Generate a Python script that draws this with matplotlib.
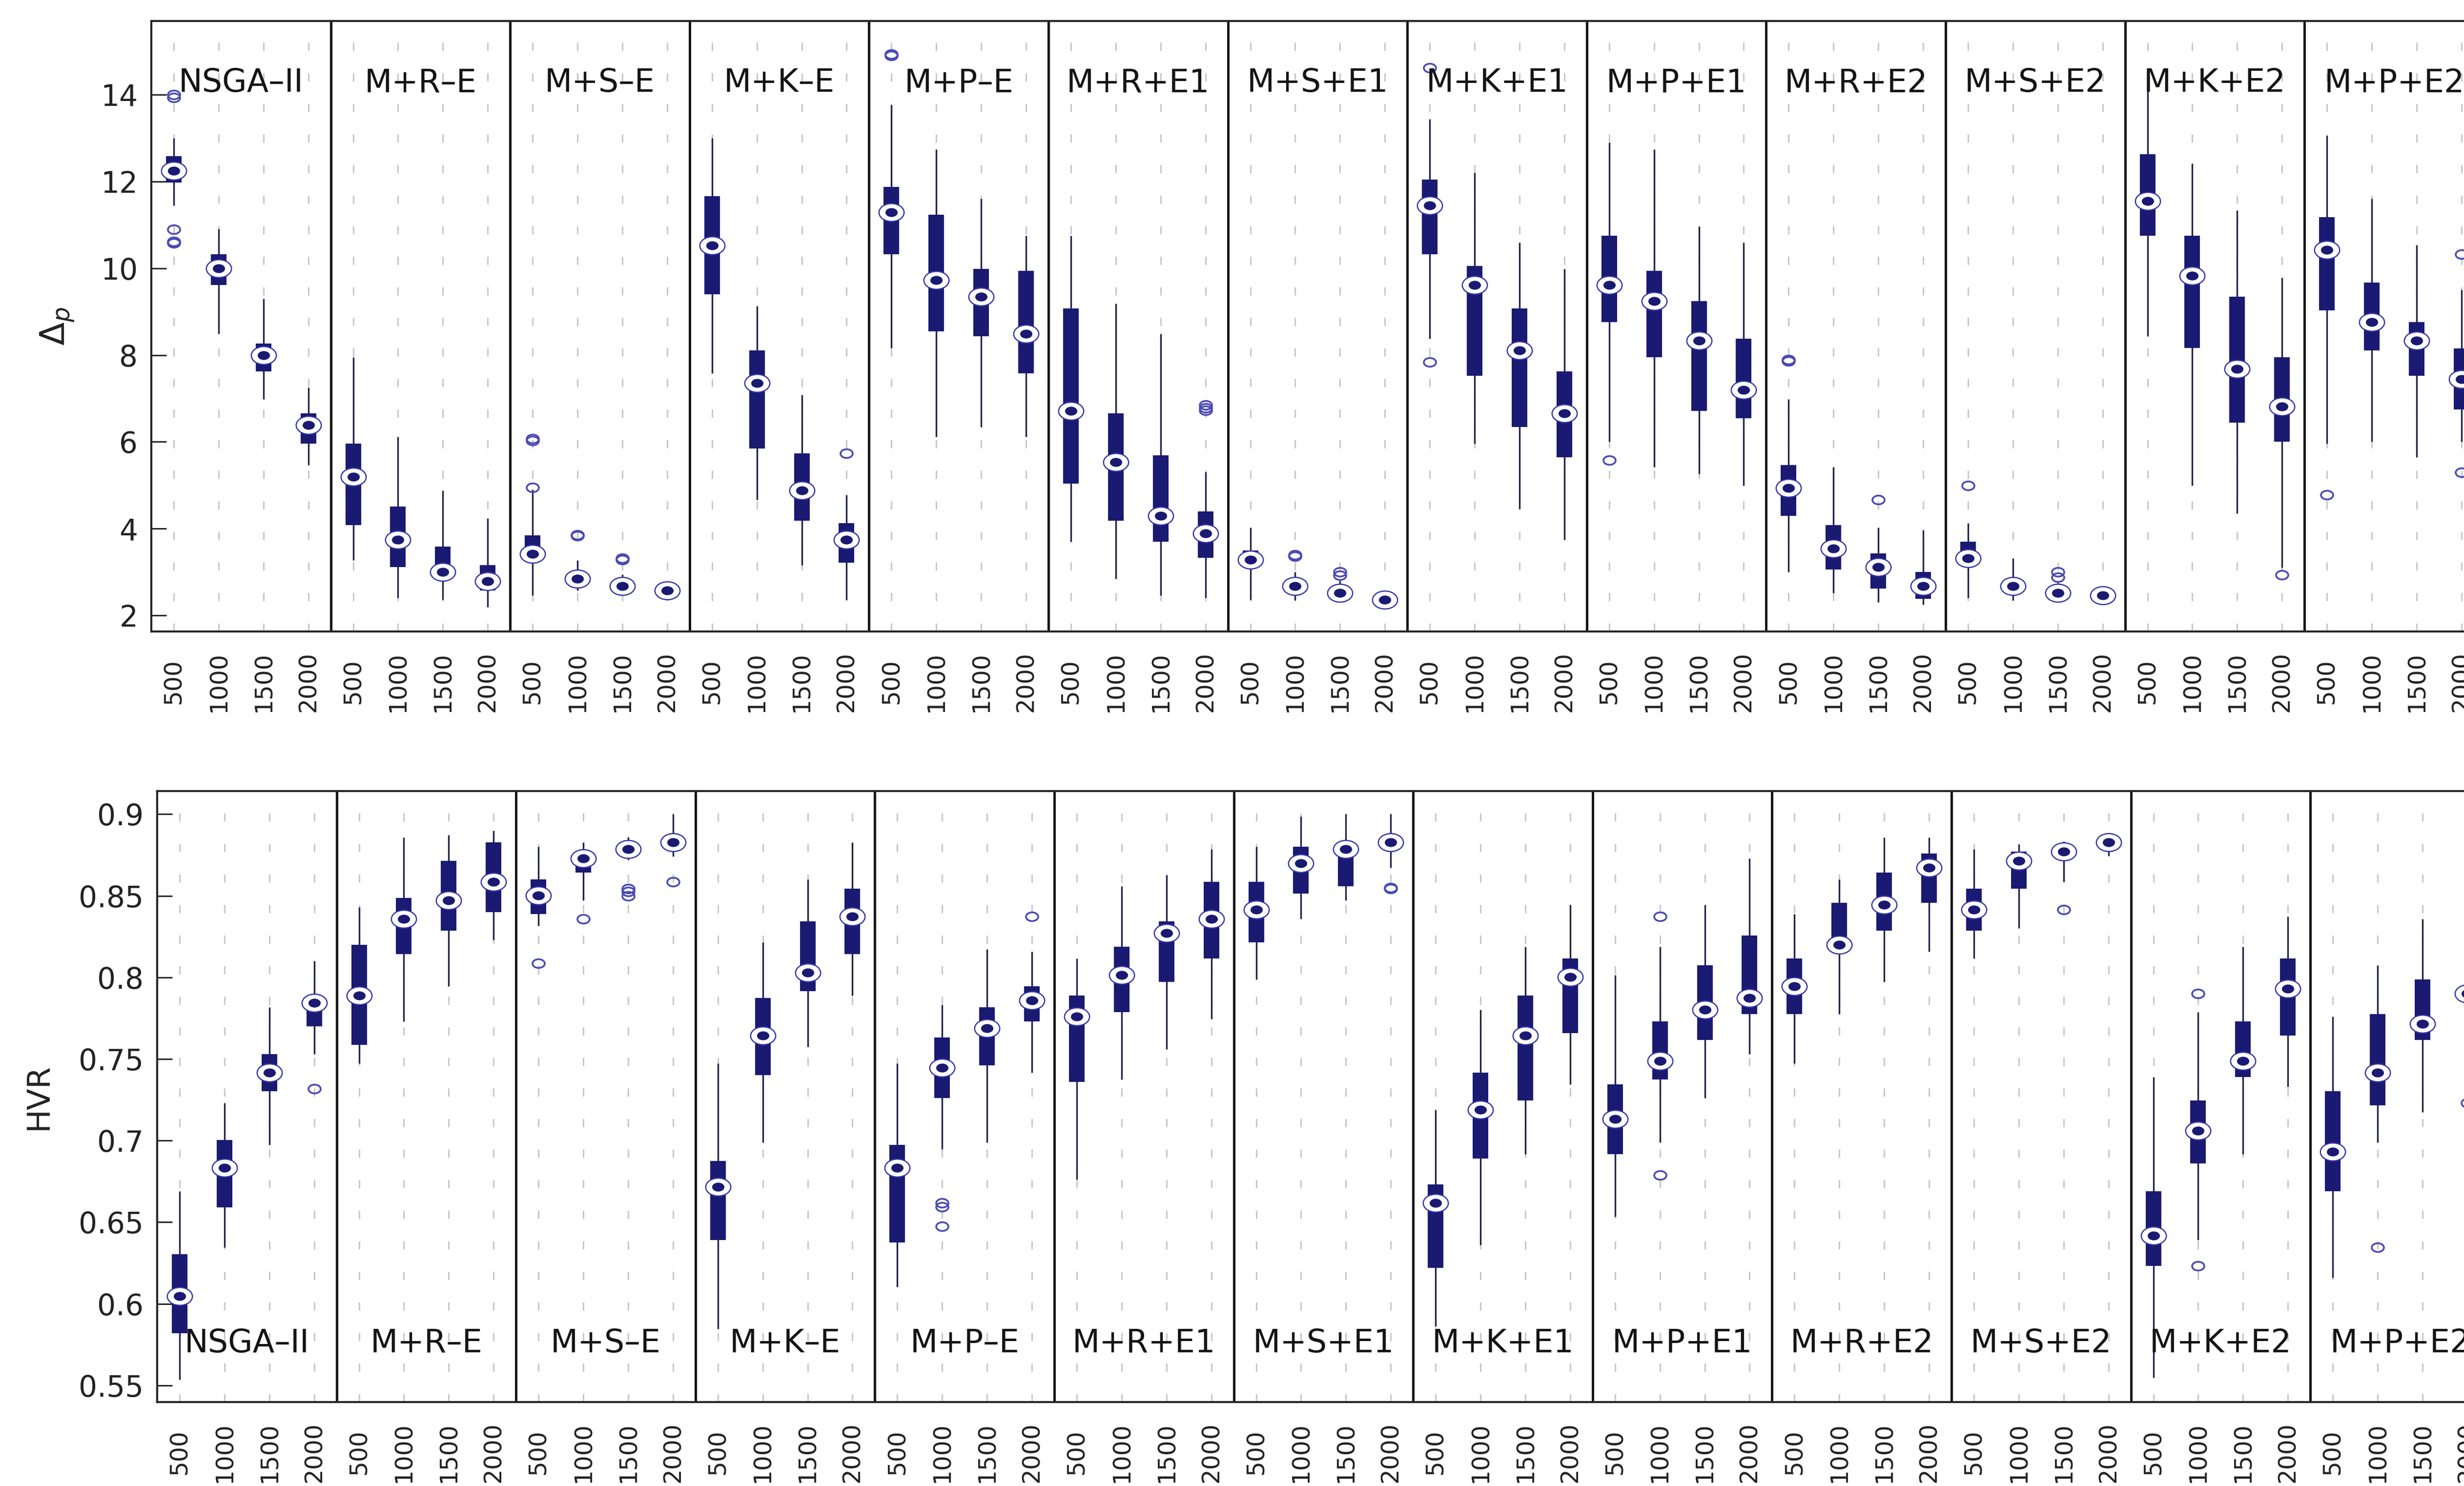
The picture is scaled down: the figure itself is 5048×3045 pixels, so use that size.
import numpy as np
import matplotlib
matplotlib.use("Agg")
import matplotlib.pyplot as plt
from matplotlib.path import Path
from matplotlib.markers import MarkerStyle
from matplotlib.transforms import Affine2D

plt.rcParams["font.family"] = ["DejaVu Sans"]

# ---------------------------------------------------------------- data
algorithms = ["NSGA–II", "M+R–E", "M+S–E", "M+K–E", "M+P–E",
              "M+R+E1", "M+S+E1", "M+K+E1", "M+P+E1",
              "M+R+E2", "M+S+E2", "M+K+E2", "M+P+E2"]
budgets = ["500", "1000", "1500", "2000"]

# Delta_p box statistics (rows: algorithms, columns: budgets)
dp_whisker_hi = [
    [13.00, 10.91, 9.30, 7.25], [7.95, 6.12, 4.88, 4.24], [4.90, 3.27, 2.95, 2.68],
    [13.00, 9.13, 7.09, 4.78], [13.76, 12.74, 11.61, 10.75], [10.75, 9.19, 8.49, 5.31],
    [4.02, 3.00, 2.80, 2.45], [13.44, 12.20, 10.59, 9.99], [12.90, 12.74, 10.96, 10.59],
    [6.98, 5.42, 4.02, 3.97], [4.13, 3.32, 2.75, 2.55], [14.51, 12.42, 11.34, 9.78],
    [13.06, 11.61, 10.54, 9.50]]
dp_q3 = [
    [12.58, 10.32, 8.27, 6.66], [5.96, 4.51, 3.59, 3.16], [3.85, 3.00, 2.78, 2.60],
    [11.66, 8.11, 5.74, 4.13], [11.88, 11.23, 9.99, 9.94], [9.08, 6.66, 5.69, 4.40],
    [3.50, 2.85, 2.62, 2.40], [12.04, 10.05, 9.08, 7.63], [10.75, 9.94, 9.24, 8.38],
    [5.47, 4.08, 3.43, 3.00], [3.70, 2.85, 2.62, 2.50], [12.63, 10.75, 9.35, 7.95],
    [11.18, 9.67, 8.76, 8.15]]
dp_median = [
    [12.25, 10.00, 8.00, 6.39], [5.20, 3.75, 3.00, 2.79], [3.42, 2.84, 2.68, 2.57],
    [10.53, 7.36, 4.88, 3.75], [11.29, 9.73, 9.35, 8.49], [6.71, 5.53, 4.29, 3.89],
    [3.28, 2.68, 2.52, 2.36], [11.45, 9.62, 8.11, 6.66], [9.62, 9.24, 8.33, 7.20],
    [4.94, 3.54, 3.11, 2.68], [3.32, 2.68, 2.52, 2.46], [11.55, 9.83, 7.68, 6.82],
    [10.42, 8.76, 8.33, 7.45]]
dp_q1 = [
    [11.98, 9.62, 7.63, 5.96], [4.08, 3.11, 2.89, 2.57], [3.35, 2.75, 2.62, 2.53],
    [9.40, 5.85, 4.18, 3.22], [10.32, 8.55, 8.44, 7.58], [5.04, 4.18, 3.70, 3.33],
    [3.20, 2.60, 2.45, 2.32], [10.32, 7.52, 6.34, 5.64], [8.76, 7.95, 6.71, 6.55],
    [4.29, 3.06, 2.62, 2.38], [3.27, 2.62, 2.47, 2.42], [10.75, 8.17, 6.44, 6.01],
    [9.03, 8.11, 7.52, 6.75]]
dp_whisker_lo = [
    [11.45, 8.49, 6.98, 5.47], [3.27, 2.41, 2.36, 2.19], [2.46, 2.57, 2.50, 2.45],
    [7.58, 4.67, 3.16, 2.36], [8.17, 6.12, 6.34, 6.12], [3.70, 2.84, 2.46, 2.41],
    [2.36, 2.35, 2.35, 2.28], [8.38, 5.96, 4.45, 3.75], [6.01, 5.42, 5.26, 4.99],
    [3.00, 2.52, 2.30, 2.25], [2.41, 2.35, 2.40, 2.38], [8.43, 4.99, 4.35, 3.10],
    [5.96, 6.01, 5.64, 6.00]]
# (algorithm index, budget index, value)
dp_outliers = [
    (0, 0, 14.00), (0, 0, 13.93), (0, 0, 10.90), (0, 0, 10.62), (0, 0, 10.58),
    (2, 0, 6.07), (2, 0, 6.03), (2, 0, 4.95), (2, 1, 3.86), (2, 1, 3.84),
    (2, 2, 3.32), (2, 2, 3.28), (3, 3, 5.74), (4, 0, 14.94), (4, 0, 14.90),
    (5, 3, 6.85), (5, 3, 6.78), (5, 3, 6.72), (6, 1, 3.40), (6, 1, 3.36),
    (6, 2, 3.00), (6, 2, 2.92), (7, 0, 14.62), (7, 0, 7.84), (8, 0, 5.58),
    (9, 0, 7.90), (9, 0, 7.86), (9, 2, 4.67), (10, 0, 4.99), (10, 2, 3.00),
    (10, 2, 2.88), (11, 3, 2.93), (12, 0, 4.78), (12, 3, 10.32), (12, 3, 5.30)]

# HVR box statistics (rows: algorithms, columns: budgets)
hvr_whisker_hi = [
    [0.669, 0.7232, 0.7816, 0.8102], [0.843, 0.8857, 0.8872, 0.890], [0.880, 0.8829, 0.886, 0.900],
    [0.7474, 0.8216, 0.860, 0.8829], [0.7474, 0.7831, 0.8173, 0.8159], [0.8116, 0.8558, 0.8629, 0.8786],
    [0.880, 0.8986, 0.900, 0.900], [0.7189, 0.7802, 0.8187, 0.8444], [0.8016, 0.8187, 0.8444, 0.8729],
    [0.8387, 0.860, 0.8857, 0.8857], [0.8786, 0.8815, 0.8835, 0.887], [0.7389, 0.7788, 0.8187, 0.8373],
    [0.7759, 0.8073, 0.8358, 0.8387]]
hvr_q3 = [
    [0.6305, 0.7003, 0.7531, 0.7888], [0.8201, 0.8487, 0.8715, 0.8829], [0.860, 0.8772, 0.882, 0.8855],
    [0.6875, 0.7873, 0.8344, 0.8544], [0.6975, 0.7631, 0.7816, 0.7945], [0.7888, 0.8187, 0.8344, 0.8586],
    [0.8586, 0.880, 0.8829, 0.885], [0.6733, 0.7417, 0.7888, 0.8116], [0.7346, 0.7731, 0.8073, 0.8258],
    [0.8116, 0.8458, 0.8643, 0.8758], [0.8544, 0.8772, 0.8815, 0.885], [0.669, 0.7246, 0.7731, 0.8116],
    [0.7303, 0.7774, 0.7987, 0.8116]]
hvr_median = [
    [0.6048, 0.6832, 0.7417, 0.7845], [0.7888, 0.8358, 0.8472, 0.8586], [0.8501, 0.8729, 0.8786, 0.8829],
    [0.6718, 0.7645, 0.803, 0.8373], [0.6832, 0.7446, 0.7688, 0.7859], [0.7759, 0.8016, 0.8273, 0.8358],
    [0.8415, 0.870, 0.8786, 0.8829], [0.6618, 0.7189, 0.7645, 0.8002], [0.7132, 0.7488, 0.7802, 0.7873],
    [0.7945, 0.8201, 0.8444, 0.8672], [0.8415, 0.8715, 0.8772, 0.8829], [0.6419, 0.706, 0.7488, 0.793],
    [0.6932, 0.7417, 0.7717, 0.7902]]
hvr_q1 = [
    [0.582, 0.659, 0.7303, 0.7702], [0.7588, 0.8144, 0.8287, 0.8401], [0.8387, 0.8643, 0.876, 0.880],
    [0.639, 0.7403, 0.7916, 0.8144], [0.6376, 0.726, 0.746, 0.7731], [0.736, 0.7788, 0.7973, 0.8116],
    [0.8216, 0.8515, 0.8558, 0.879], [0.6219, 0.6889, 0.7246, 0.766], [0.6918, 0.7374, 0.7617, 0.7774],
    [0.7774, 0.8159, 0.8287, 0.8458], [0.8287, 0.8544, 0.8729, 0.880], [0.6233, 0.6861, 0.7389, 0.7645],
    [0.669, 0.7217, 0.7617, 0.7759]]
hvr_whisker_lo = [
    [0.5535, 0.6347, 0.6975, 0.7531], [0.7474, 0.7731, 0.7945, 0.823], [0.8316, 0.8472, 0.872, 0.874],
    [0.5848, 0.6989, 0.7574, 0.7888], [0.6105, 0.6946, 0.6989, 0.7417], [0.6761, 0.7374, 0.756, 0.7745],
    [0.7987, 0.8358, 0.8472, 0.8672], [0.5863, 0.6362, 0.6918, 0.7346], [0.6533, 0.6989, 0.726, 0.7531],
    [0.7474, 0.7774, 0.7973, 0.8159], [0.8116, 0.8301, 0.8586, 0.8743], [0.5549, 0.639, 0.6918, 0.7331],
    [0.6162, 0.6989, 0.7175, 0.7417]]
hvr_outliers = [
    (0, 3, 0.7317), (2, 0, 0.8087), (2, 1, 0.8358), (2, 2, 0.8544), (2, 2, 0.8525),
    (2, 2, 0.8500), (2, 3, 0.8586), (4, 1, 0.6618), (4, 1, 0.6595), (4, 1, 0.6476),
    (4, 3, 0.8373), (6, 3, 0.8550), (6, 3, 0.8545), (8, 1, 0.8373), (8, 1, 0.6789),
    (10, 2, 0.8415), (11, 1, 0.7902), (11, 1, 0.6233), (12, 1, 0.6347), (12, 3, 0.7232)]

# ---------------------------------------------------------------- style
BOX = "#1a1a72"
WHISK = "#22224a"
MED_EDGE = "#3434a6"
OUT = "#4a4ab4"
GRID = "#c8c8c8"
FRAME = "#262626"

ellipse = MarkerStyle(Affine2D().scale(1.4, 1.0).transform_path(Path.unit_circle()))

W, H, DPI = 5048, 3045, 100
fig = plt.figure(figsize=(W / DPI, H / DPI), dpi=DPI, facecolor="white")

n_alg, n_bud = len(algorithms), len(budgets)
axes_width = 52 * 91.9 / W
ax_top = fig.add_axes([310 / W, 1 - 1294 / H, axes_width, (1294 - 43) / H])
ax_bot = fig.add_axes([322 / W, 1 - 2873 / H, axes_width, (2873 - 1621) / H])


def draw_panel(ax, whi, q3, med, q1, wlo, outliers, ylim, yticks, yticklabels,
               ylabel, ylabel_x, ylabel_size, label_y):
    pos = np.array([g * n_bud + b + 1 for g in range(n_alg) for b in range(n_bud)])
    whi, q3, med, q1, wlo = (np.ravel(a) for a in (whi, q3, med, q1, wlo))

    ax.set_xlim(0.5, n_alg * n_bud + 0.5)
    ax.set_ylim(*ylim)
    ax.set_axisbelow(True)

    # dashed vertical grid at every box position
    ax.set_xticks(pos)
    ax.set_xticklabels(budgets * n_alg, rotation=90, va="center", fontsize=35,
                       color="#222222")
    ax.tick_params(axis="x", length=0, pad=74)
    ax.grid(axis="x", color=GRID, linewidth=2.2, linestyle=(0, (5.5, 15)))

    ax.set_yticks(yticks)
    ax.set_yticklabels(yticklabels, fontsize=43, color="#222222")
    ax.tick_params(axis="y", direction="in", length=22, width=2.2, pad=20,
                   color=FRAME)
    ax.tick_params(right=False, top=False)

    for side in ax.spines.values():
        side.set_linewidth(3.0)
        side.set_color(FRAME)

    # separators between algorithms
    for g in range(1, n_alg):
        ax.axvline(g * n_bud + 0.5, color="#161616", linewidth=3.6, zorder=2.5)

    # whiskers, boxes, medians
    ax.vlines(pos, wlo, whi, color=WHISK, linewidth=2.4, zorder=3)
    ax.vlines(pos, q1, q3, color=BOX, linewidth=23, zorder=4)
    ax.plot(pos, med, ls="none", marker=ellipse, markersize=37,
            markerfacecolor="white", markeredgecolor=MED_EDGE,
            markeredgewidth=1.8, zorder=5)
    ax.plot(pos, med, ls="none", marker=ellipse, markersize=17,
            markerfacecolor=BOX, markeredgecolor=BOX, zorder=6)

    # outliers
    ox = [g * n_bud + b + 1 for g, b, _ in outliers]
    oy = [v for _, _, v in outliers]
    ax.plot(ox, oy, ls="none", marker=ellipse, markersize=18,
            markerfacecolor="none", markeredgecolor=OUT, markeredgewidth=2.6,
            zorder=6)

    # algorithm names
    for g, name in enumerate(algorithms):
        ax.text(g * n_bud + 2.5, label_y, name, ha="center", va="center",
                fontsize=47, color="#141414", zorder=7)

    ax.set_ylabel(ylabel, fontsize=ylabel_size, va="center", color="#222222")
    ax.yaxis.set_label_coords(ylabel_x, 0.5)


draw_panel(ax_top, dp_whisker_hi, dp_q3, dp_median, dp_q1, dp_whisker_lo,
           dp_outliers, (1.63, 15.70), [2, 4, 6, 8, 10, 12, 14],
           ["2", "4", "6", "8", "10", "12", "14"],
           r"$\Delta_p$", -0.0402, 50, 14.27)

draw_panel(ax_bot, hvr_whisker_hi, hvr_q3, hvr_median, hvr_q1, hvr_whisker_lo,
           hvr_outliers, (0.5398, 0.9142),
           [0.55, 0.6, 0.65, 0.7, 0.75, 0.8, 0.85, 0.9],
           ["0.55", "0.6", "0.65", "0.7", "0.75", "0.8", "0.85", "0.9"],
           "HVR", -0.0508, 46, 0.5757)

fig.savefig("out.png", dpi=DPI, facecolor="white")
